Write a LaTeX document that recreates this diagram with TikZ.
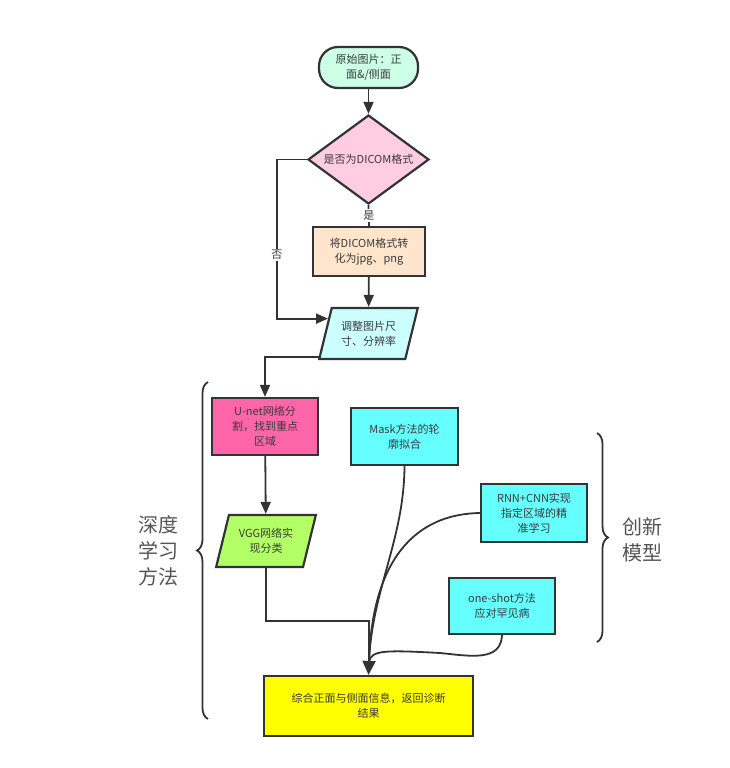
\documentclass[tikz,border=0pt]{standalone}
\usepackage{fontspec}
\setmainfont{Noto Sans CJK SC}
\usetikzlibrary{shapes.geometric,arrows.meta,decorations.pathreplacing,calc}
\definecolor{lc}{HTML}{333333}
\definecolor{tc}{HTML}{3a3a3a}
\definecolor{mint}{HTML}{CCFFE6}
\definecolor{pinkd}{HTML}{FFCCE0}
\definecolor{peach}{HTML}{FFE5CC}
\definecolor{lcyan}{HTML}{CCFFFF}
\definecolor{hotpink}{HTML}{FF66AA}
\definecolor{lgreen}{HTML}{B3FF66}
\definecolor{cyanb}{HTML}{66FFFF}
\definecolor{yel}{HTML}{FFFF00}
\definecolor{bracetext}{HTML}{555555}
\tikzset{
  box/.style={draw=lc, line width=2.2pt, align=center, text=tc, inner sep=2pt,
    font=\fontsize{11}{15}\selectfont},
  para/.style={box, trapezium, trapezium left angle=71, trapezium right angle=109,
    trapezium stretches=true, minimum width=99, minimum height=51},
  line/.style={draw=lc, line width=1.8pt},
  arr/.style={line, -{Triangle[length=12,width=10]}},
  bigarr/.style={line, -{Triangle[length=14,width=13]}},
  lbl/.style={fill=white, inner sep=1.5pt, text=tc, font=\fontsize{11}{13}\selectfont},
  brlbl/.style={align=center, text=bracetext, font=\fontsize{20}{26}\selectfont},
  brc/.style={draw=lc, line width=1.8pt, decorate, decoration={brace, amplitude=11pt}}
}
\begin{document}
\begin{tikzpicture}[x=1pt,y=-1pt]
\useasboundingbox (0,0) rectangle (729,768);

\node[box, fill=mint, rounded corners=19, minimum width=99, minimum height=41] (start) at (368.5,67.5) {原始图片：正\\面\&/侧面};
\node[box, diamond, aspect=1.36, fill=pinkd, minimum width=121, minimum height=89, inner sep=0pt] (dia) at (368.5,159.5) {是否为DICOM格式};
\node[box, fill=peach, minimum width=112, minimum height=49] (conv) at (369,251.5) {将DICOM格式转\\化为jpg、png};
\node[para, fill=lcyan] (resize) at (368.5,333.5) {调整图片尺\\寸、分辨率};
\node[box, fill=hotpink, minimum width=106, minimum height=57] (unet) at (265,426.5) {U-net网络分\\割，找到重点\\区域};
\node[para, fill=lgreen, minimum width=100, minimum height=52] (vgg) at (266,541) {VGG网络实\\现分类};
\node[box, fill=cyanb, minimum width=107, minimum height=57] (mask) at (404.5,436.5) {Mask方法的轮\\廓拟合};
\node[box, fill=cyanb, minimum width=106, minimum height=58] (rnn) at (534,513) {RNN+CNN实现\\指定区域的精\\准学习};
\node[box, fill=cyanb, minimum width=106, minimum height=56] (oneshot) at (502,606) {one-shot方法\\应对罕见病};
\node[box, fill=yel, minimum width=209, minimum height=60] (final) at (368.5,706) {综合正面与侧面信息，返回诊断\\结果};

\node[brlbl] (dl) at (158,551) {深度\\学习\\方法};
\node[brlbl] (cx) at (642,540) {创新\\模型};

\coordinate (pin) at ($(resize.top left corner)!0.22!(resize.bottom left corner)$);
\coordinate (pout) at ($(resize.bottom left corner)!0.06!(resize.top left corner)$);
\coordinate (merge) at (369,662);

\draw[arr] (start) -- (dia);
\draw[line] (dia.south) -- (conv.north) node[midway, lbl] {是};
\draw[arr] (conv) -- (resize);
\draw[arr] (dia.west) -- ++(-30,0) |- (pin) node[pos=0.3, lbl] {否};
\draw[arr] (pout) -| (unet.north);
\draw[arr] (unet) -- (vgg);
\draw[line] (vgg.south) -- ++(0,53) -| (merge);
\draw[line] (mask.south) .. controls (404,540) and (372,590) .. (merge);
\draw[line] (rnn.west) .. controls (415,514) and (372,560) .. (merge);
\draw[line] (oneshot.south) .. controls (501,662) and (470,656) .. (440,653) .. controls (385,650) and (371,650) .. (merge);
\draw[bigarr] (merge) -- (final.north);

\draw[brc] (208,719) -- (208,382);
\draw[brc] (597,433) -- (597,642);
\end{tikzpicture}
\end{document}
